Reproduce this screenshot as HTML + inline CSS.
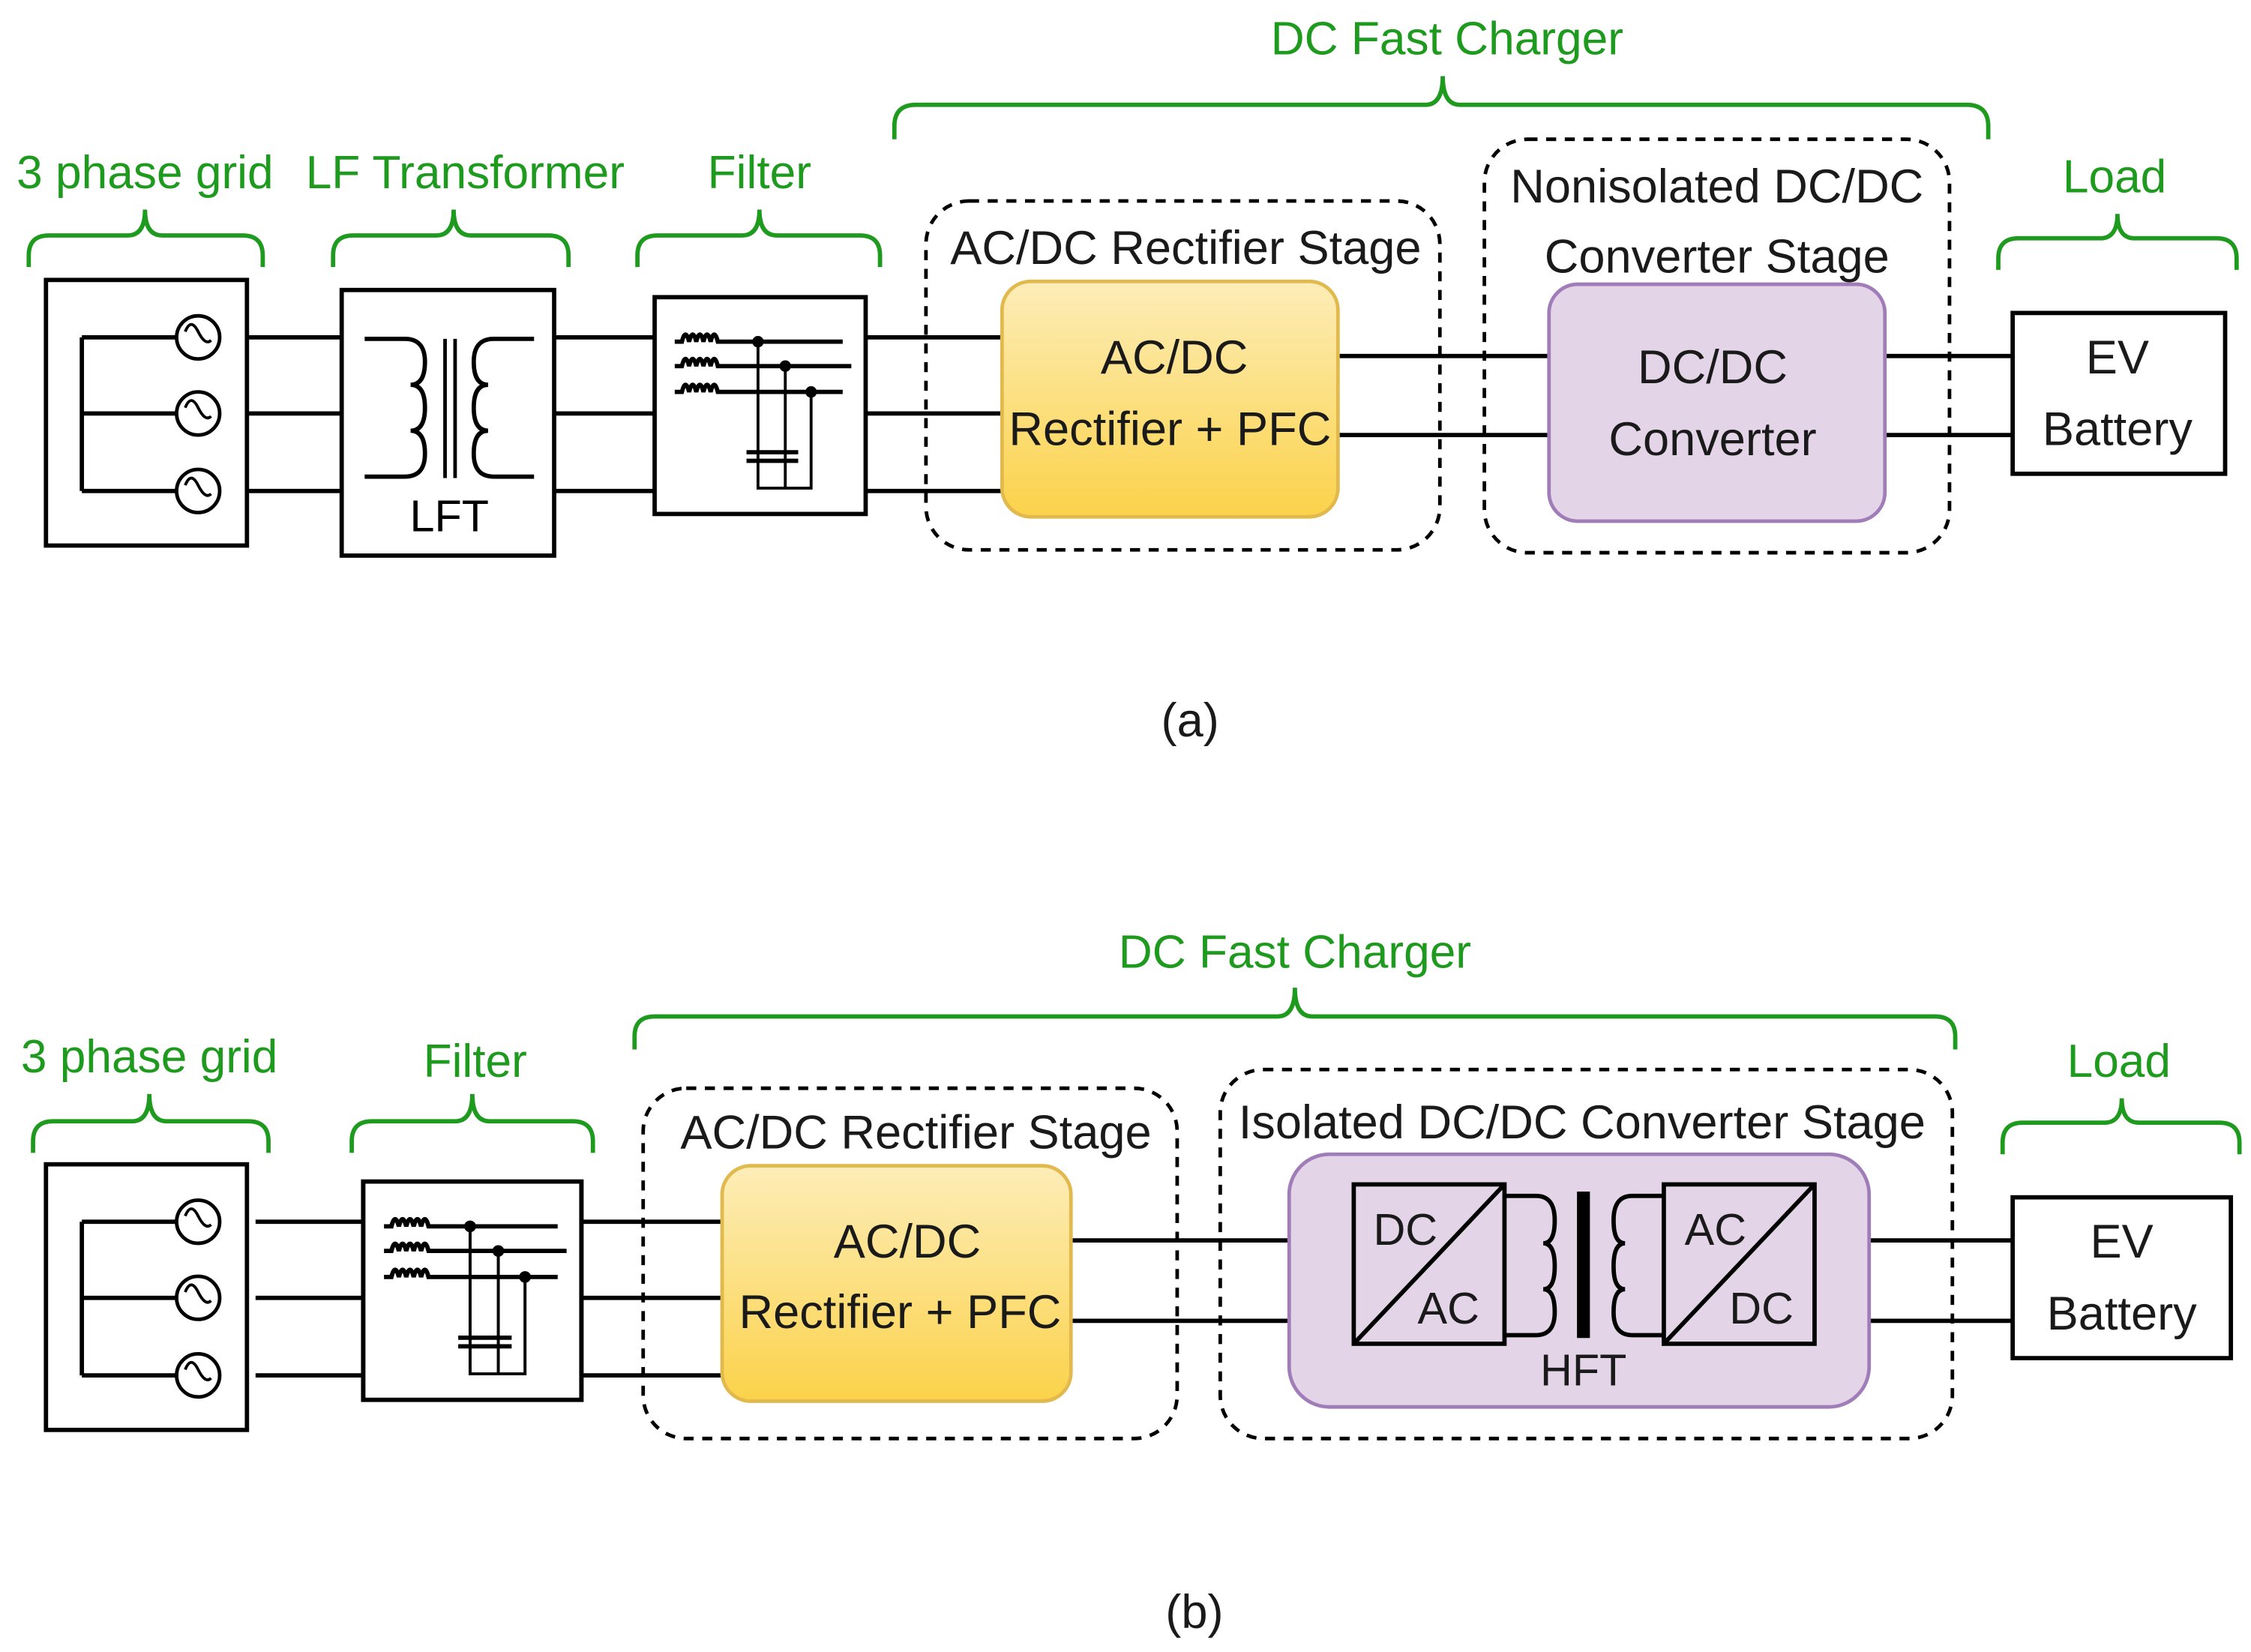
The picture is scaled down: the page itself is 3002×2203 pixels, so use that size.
<!DOCTYPE html>
<html><head><meta charset="utf-8"><style>
html,body{margin:0;padding:0;background:#fff;}
svg{display:block;}
text{font-family:"Liberation Sans",Arial,sans-serif;}
</style></head><body>
<svg width="3002" height="2203" viewBox="0 0 1568 1150.7" xmlns="http://www.w3.org/2000/svg">
<defs>
<linearGradient id="yg" x1="0" y1="0" x2="0" y2="1"><stop offset="0" stop-color="#fdedb8"/><stop offset="1" stop-color="#fbd24a"/></linearGradient>
<g id="src">
 <rect x="0" y="0" width="140" height="185" fill="#fff" stroke="#000" stroke-width="3"/>
 <path d="M25,40 V147 M25,40 H91 M25,93 H91 M25,147 H91" fill="none" stroke="#000" stroke-width="3"/>
 <g fill="#fff" stroke="#000" stroke-width="2.5">
  <circle cx="106" cy="40" r="15"/><circle cx="106" cy="93" r="15"/><circle cx="106" cy="147" r="15"/>
 </g>
 <g fill="none" stroke="#000" stroke-width="2">
  <path d="M97,36 q4,-10 9,0 t9,6"/><path d="M97,89 q4,-10 9,0 t9,6"/><path d="M97,143 q4,-10 9,0 t9,6"/>
 </g>
</g>
<g id="flt">
 <rect x="0" y="0" width="147" height="151" fill="#fff" stroke="#000" stroke-width="3"/>
 <g fill="none" stroke="#000" stroke-width="3">
  <path d="M14,31 h5 q2.5,-10 5,0 q2.5,-10 5,0 q2.5,-10 5,0 q2.5,-10 5,0 q2.5,-10 5,0 h87"/>
  <path d="M14,48 h5 q2.5,-10 5,0 q2.5,-10 5,0 q2.5,-10 5,0 q2.5,-10 5,0 q2.5,-10 5,0 h93"/>
  <path d="M14,66 h5 q2.5,-10 5,0 q2.5,-10 5,0 q2.5,-10 5,0 q2.5,-10 5,0 q2.5,-10 5,0 h87"/>
  <path d="M72,31 V133 H109 V66 M91,48 V133" stroke-width="2"/>
  <path d="M64,108 H100 M64,114 H100" stroke-width="3"/>
 </g>
 <circle cx="72" cy="31" r="4"/><circle cx="91" cy="48" r="4"/><circle cx="109" cy="66" r="4"/>
</g>
</defs>
<g fill="#1e9a1e" font-size="32.5" text-anchor="middle">
 <text x="101" y="131">3 phase grid</text>
 <text x="324" y="131">LF Transformer</text>
 <text x="529" y="131">Filter</text>
 <text x="1008" y="38">DC Fast Charger</text>
 <text x="1473" y="134">Load</text>
 <text x="104" y="747">3 phase grid</text>
 <text x="331" y="750">Filter</text>
 <text x="902" y="674">DC Fast Charger</text>
 <text x="1476" y="750">Load</text>
</g>
<g fill="none" stroke="#1e9a1e" stroke-width="3">
 <path d="M20,186 V178 Q20,164 34,164 H89 Q101,164 101,146 Q101,164 113,164 H169 Q183,164 183,178 V186"/>
 <path d="M232,186 V178 Q232,164 246,164 H304 Q316,164 316,146 Q316,164 328,164 H382 Q396,164 396,178 V186"/>
 <path d="M444,186 V178 Q444,164 458,164 H517 Q529,164 529,146 Q529,164 541,164 H599 Q613,164 613,178 V186"/>
 <path d="M623,97 V88 Q623,73 638,73 H993 Q1005,73 1005,53 Q1005,73 1017,73 H1370 Q1385,73 1385,88 V97"/>
 <path d="M1392,188 V180 Q1392,166 1406,166 H1463 Q1475,166 1475,149 Q1475,166 1487,166 H1544 Q1558,166 1558,180 V188"/>
 <path d="M23,803 V795 Q23,781 37,781 H92 Q104,781 104,762 Q104,781 116,781 H173 Q187,781 187,795 V803"/>
 <path d="M245,803 V795 Q245,781 259,781 H317 Q329,781 329,762 Q329,781 341,781 H399 Q413,781 413,795 V803"/>
 <path d="M442,731 V722 Q442,708 456,708 H890 Q902,708 902,688 Q902,708 914,708 H1348 Q1362,708 1362,722 V731"/>
 <path d="M1395,804 V796 Q1395,782 1409,782 H1466 Q1478,782 1478,765 Q1478,782 1490,782 H1546 Q1560,782 1560,796 V804"/>
</g>
<!-- panel a -->
<g stroke="#000" stroke-width="3" fill="none">
 <path d="M172,235 H238 M172,288 H238 M172,342 H238 M386,235 H456 M386,288 H456 M386,342 H456 M603,235 H698 M603,288 H698 M603,342 H698 M932,248 H1079 M932,303 H1079 M1313,248 H1402 M1313,303 H1402"/>
</g>
<use href="#src" x="32" y="195"/>
<rect x="238" y="202" width="148" height="185" fill="#fff" stroke="#000" stroke-width="3"/>
<g fill="none" stroke="#000" stroke-width="3">
 <path d="M254,236 H282 Q296,236 296,252 Q296,268 286,268 Q296,268 296,284 Q296,300 286,300 Q296,300 296,316 Q296,332 282,332 H254"/>
 <path d="M372,236 H344 Q330,236 330,252 Q330,268 340,268 Q330,268 330,284 Q330,300 340,300 Q330,300 330,316 Q330,332 344,332 H372"/>
 <path d="M310,236 V333 M317,236 V333" stroke-width="2.5"/>
</g>
<text x="313" y="370" font-size="31" text-anchor="middle">LFT</text>
<use href="#flt" x="456" y="207"/>
<rect x="645" y="140" width="358" height="243" rx="30" fill="none" stroke="#000" stroke-width="2.5" stroke-dasharray="7,6"/>
<rect x="1034" y="97" width="324" height="288" rx="30" fill="none" stroke="#000" stroke-width="2.5" stroke-dasharray="7,6"/>
<rect x="698" y="196" width="234" height="164" rx="20" fill="url(#yg)" stroke="#e2b94c" stroke-width="2.5"/>
<rect x="1079" y="198" width="234" height="165" rx="20" fill="#e3d4e8" stroke="#a07cb8" stroke-width="2.5"/>
<rect x="1402" y="218" width="148" height="112" fill="#fff" stroke="#000" stroke-width="3"/>
<g font-size="33" text-anchor="middle" fill="#1a1a1a">
 <text x="826" y="184">AC/DC Rectifier Stage</text>
 <text x="1196" y="141">Nonisolated DC/DC</text>
 <text x="1196" y="190">Converter Stage</text>
 <text x="818" y="260">AC/DC</text>
 <text x="815" y="310">Rectifier + PFC</text>
 <text x="1193" y="267">DC/DC</text>
 <text x="1193" y="317">Converter</text>
 <text x="1475" y="260">EV</text>
 <text x="1475" y="310">Battery</text>
 <text x="829" y="513">(a)</text>
</g>
<!-- panel b -->
<g stroke="#000" stroke-width="3" fill="none">
 <path d="M178,851 H253 M178,904 H253 M178,958 H253 M405,851 H503 M405,904 H503 M405,958 H503 M746,864 H898 M746,920 H898 M1302,864 H1402 M1302,920 H1402"/>
</g>
<use href="#src" x="32" y="811"/>
<use href="#flt" x="253" y="823" transform="translate(253,823) scale(1.034,1.007) translate(-253,-823)"/>
<rect x="448" y="758" width="372" height="244" rx="30" fill="none" stroke="#000" stroke-width="2.5" stroke-dasharray="7,6"/>
<rect x="850" y="745" width="510" height="257" rx="30" fill="none" stroke="#000" stroke-width="2.5" stroke-dasharray="7,6"/>
<rect x="503" y="812" width="243" height="164" rx="20" fill="url(#yg)" stroke="#e2b94c" stroke-width="2.5"/>
<rect x="898" y="804" width="404" height="176" rx="28" fill="#e3d4e8" stroke="#a07cb8" stroke-width="2.5"/>
<g fill="none" stroke="#000" stroke-width="3">
 <rect x="943" y="825" width="105" height="111"/>
 <rect x="1159" y="825" width="105" height="111"/>
 <path d="M943,936 L1048,825 M1159,936 L1264,825"/>
 <path d="M1048,833 H1070 Q1083,833 1083,850 Q1083,866 1075,866 Q1083,866 1083,882 Q1083,898 1075,898 Q1083,898 1083,914 Q1083,930 1070,930 H1048"/>
 <path d="M1159,833 H1137 Q1124,833 1124,850 Q1124,866 1132,866 Q1124,866 1124,882 Q1124,898 1132,898 Q1124,898 1124,914 Q1124,930 1137,930 H1159"/>
 <path d="M1103,830 V932" stroke-width="9"/>
</g>
<rect x="1402" y="834" width="152" height="112" fill="#fff" stroke="#000" stroke-width="3"/>
<g font-size="33" text-anchor="middle" fill="#1a1a1a">
 <text x="638" y="800">AC/DC Rectifier Stage</text>
 <text x="1102" y="793">Isolated DC/DC Converter Stage</text>
 <text x="632" y="876">AC/DC</text>
 <text x="627" y="925">Rectifier + PFC</text>
 <text x="979" y="867" font-size="31">DC</text>
 <text x="1009" y="922" font-size="31">AC</text>
 <text x="1195" y="867" font-size="31">AC</text>
 <text x="1227" y="922" font-size="31">DC</text>
 <text x="1103" y="965" font-size="31">HFT</text>
 <text x="1478" y="876">EV</text>
 <text x="1478" y="926">Battery</text>
 <text x="832" y="1134">(b)</text>
</g>
</svg>
</body></html>
